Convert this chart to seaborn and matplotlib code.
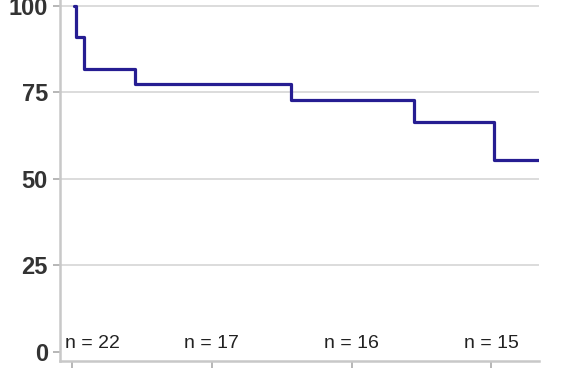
import matplotlib
matplotlib.use("Agg")
import matplotlib.pyplot as plt
import seaborn as sns
import pandas as pd

# Data
time_months = [0.2, 0.3, 0.9, 4.5, 15.7, 24.5, 30.2, 33.4]
survival_pct = [100.0, 90.9, 81.8, 77.3, 72.7, 66.5, 55.5, 55.5]
at_risk_times = [0, 10, 20, 30]
at_risk_n = [22, 17, 16, 15]
y_ticks = [0, 25, 50, 75, 100]
x_ticks = [0, 10, 20, 30]

sns.set_theme(style="white")
plt.rcParams['font.family'] = ['Liberation Sans', 'DejaVu Sans']

fig = plt.figure(figsize=(5.67, 3.75), dpi=100)
ax = fig.add_axes([0.1067, 0.0373, 0.9506 - 0.1067, 1 - 0.0373])

df = pd.DataFrame({"t": time_months, "s": survival_pct})
sns.lineplot(data=df, x="t", y="s", ax=ax, drawstyle="steps-post",
             color="#261d92", linewidth=2.3, zorder=3)

ax.set_xlim(-0.8, 33.4)
ax.set_ylim(-2.6, 101.7)
ax.set_yticks(y_ticks)
ax.set_xticks(x_ticks)
ax.set_xlabel("")
ax.set_ylabel("")

ax.grid(axis="y", color="#dcdcdc", linewidth=1.4)
ax.set_axisbelow(True)
ax.get_ygridlines()[0].set_visible(False)

for side in ["top", "right"]:
    ax.spines[side].set_visible(False)
for side in ["left", "bottom"]:
    ax.spines[side].set_color("#c8c8c8")
    ax.spines[side].set_linewidth(1.8)

ax.tick_params(axis="y", which="both", left=True, length=5, width=1.2,
               color="#aaaaaa", labelsize=17, labelcolor="#333333", pad=4)
ax.tick_params(axis="x", which="both", bottom=True, length=5, width=1.2,
               color="#aaaaaa", labelsize=17, labelcolor="#333333", pad=7)
for lab in ax.get_yticklabels() + ax.get_xticklabels():
    lab.set_fontweight("bold")

for i, (t, n) in enumerate(zip(at_risk_times, at_risk_n)):
    if i == 0:
        ax.text(t - 0.45, 2.6, f"n = {n}", ha="left", va="center",
                fontsize=14, color="#222222")
    else:
        ax.text(t, 2.6, f"n = {n}", ha="center", va="center",
                fontsize=14, color="#222222")

fig.savefig("out.png", dpi=100)
